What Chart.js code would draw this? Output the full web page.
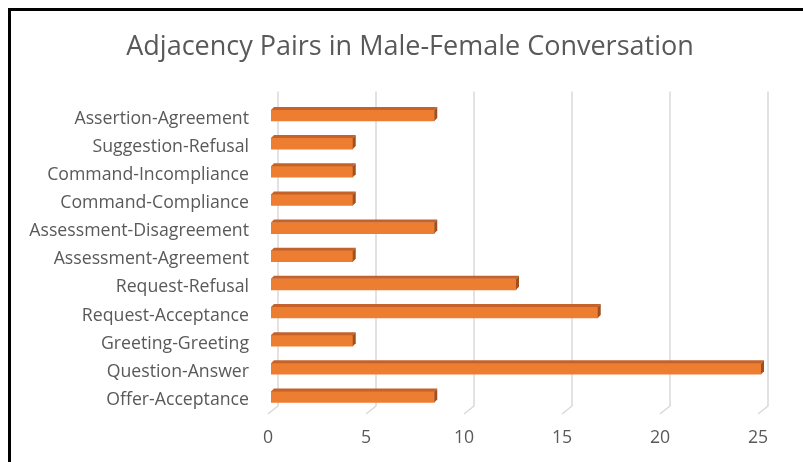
<!DOCTYPE html>
<html>
<head>
<meta charset="utf-8">
<script src="https://cdn.jsdelivr.net/npm/chart.js@4.4.0/dist/chart.umd.min.js"></script>
<style>
  html, body { margin: 0; padding: 0; background: #fff; }
</style>
</head>
<body>
<canvas id="chart" width="803" height="462"></canvas>
<script>
// categories listed top to bottom, as they appear in the picture
const categories = [
  'Assertion-Agreement',
  'Suggestion-Refusal',
  'Command-Incompliance',
  'Command-Compliance',
  'Assessment-Disagreement',
  'Assessment-Agreement',
  'Request-Refusal',
  'Request-Acceptance',
  'Greeting-Greeting',
  'Question-Answer',
  'Offer-Acceptance'
];
const values = [8.33, 4.17, 4.17, 4.17, 8.33, 4.17, 12.5, 16.67, 4.17, 25, 8.33];
const xTicks = [0, 5, 10, 15, 20, 25];

const textColor = '#595959';
const depth = 3;

// white background + black frame on top and left
const framePlugin = {
  id: 'frame',
  beforeDraw(chart) {
    const ctx = chart.ctx;
    ctx.save();
    ctx.fillStyle = '#fff';
    ctx.fillRect(0, 0, chart.width, chart.height);
    ctx.fillStyle = '#000';
    ctx.fillRect(8, 8, chart.width - 8, 3);
    ctx.fillRect(8, 8, 3, chart.height - 8);
    ctx.restore();
  }
};

// back wall gridlines with the little slanted floor foot
const gridPlugin = {
  id: 'grid3d',
  beforeDatasetsDraw(chart) {
    const ctx = chart.ctx;
    const xs = chart.scales.x;
    const area = chart.chartArea;
    ctx.save();
    ctx.strokeStyle = '#D9D9D9';
    ctx.lineWidth = 1.5;
    xTicks.forEach((v) => {
      const px = xs.getPixelForValue(v) + 7;
      ctx.beginPath();
      ctx.moveTo(px, area.top - 10);
      ctx.lineTo(px, area.bottom - 5);
      ctx.lineTo(px - 10, area.bottom + 3);
      ctx.stroke();
    });
    ctx.restore();
  }
};

// top and side faces of the bars
const barFacesPlugin = {
  id: 'barFaces',
  afterDatasetsDraw(chart) {
    const ctx = chart.ctx;
    const meta = chart.getDatasetMeta(0);
    ctx.save();
    meta.data.forEach((bar) => {
      const { x, y, base, height } = bar.getProps(['x', 'y', 'base', 'height'], true);
      const top = y - height / 2;
      const bottom = y + height / 2;
      ctx.fillStyle = '#C4622A';
      ctx.beginPath();
      ctx.moveTo(base, top);
      ctx.lineTo(base + depth, top - depth);
      ctx.lineTo(x + depth, top - depth);
      ctx.lineTo(x, top);
      ctx.closePath();
      ctx.fill();
      ctx.fillStyle = '#A14F1C';
      ctx.beginPath();
      ctx.moveTo(x, top);
      ctx.lineTo(x + depth, top - depth);
      ctx.lineTo(x + depth, bottom - depth);
      ctx.lineTo(x, bottom);
      ctx.closePath();
      ctx.fill();
    });
    ctx.restore();
  }
};

new Chart('chart', {
  type: 'bar',
  data: {
    labels: categories,
    datasets: [
      {
        data: values,
        backgroundColor: '#ED7D31',
        barThickness: 11,
        borderWidth: 0
      }
    ]
  },
  options: {
    indexAxis: 'y',
    responsive: false,
    animation: false,
    layout: { padding: { left: 27, right: 10, top: 0, bottom: 0 } },
    plugins: {
      legend: { display: false },
      tooltip: { enabled: false },
      title: {
        display: true,
        text: 'Adjacency Pairs in Male-Female Conversation',
        color: textColor,
        font: { family: 'Open Sans', size: 27, weight: 'normal' },
        padding: { top: 31, bottom: 38 }
      }
    },
    scales: {
      x: {
        min: 0,
        max: 25,
        ticks: {
          stepSize: 5,
          color: textColor,
          font: { family: 'Open Sans', size: 17.7 },
          padding: 16,
          labelOffset: -3
        },
        grid: { display: false, drawTicks: false },
        border: { display: false },
        afterFit: (s) => { s.height = 51; }
      },
      y: {
        ticks: {
          color: textColor,
          font: { family: 'Open Sans', size: 17.7 },
          padding: 22,
          labelOffset: 3
        },
        grid: { display: false, drawTicks: false },
        border: { display: false },
        afterFit: (s) => { s.width = 244; }
      },
      // empty spacer on the right so the plot ends where the reference does
      yRight: {
        position: 'right',
        ticks: { display: false },
        grid: { display: false, drawTicks: false },
        border: { display: false },
        afterFit: (s) => { s.width = 32; }
      }
    }
  },
  plugins: [framePlugin, gridPlugin, barFacesPlugin]
});
</script>
</body>
</html>
